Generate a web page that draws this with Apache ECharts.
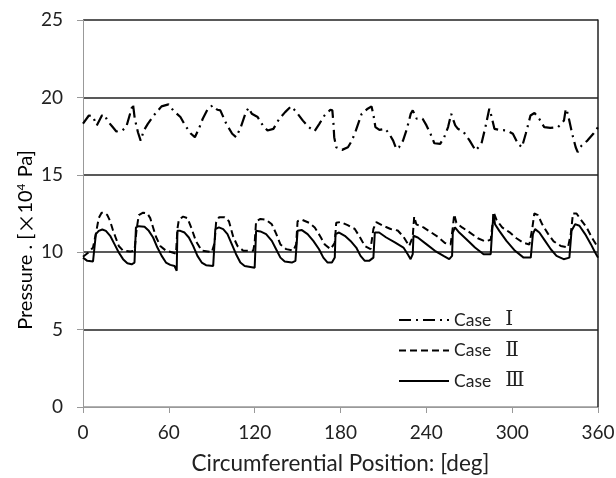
<!DOCTYPE html>
<html><head><meta charset="utf-8">
<script src="https://cdn.jsdelivr.net/npm/echarts@6/dist/echarts.min.js"></script>
<style>html,body{margin:0;padding:0;background:#fff}#c{width:616px;height:478px}</style>
</head><body><div id="c"></div>
<script>
var xTicks = [0, 60, 120, 180, 240, 300, 360];
var yTicks = [0, 5, 10, 15, 20, 25];
var seriesNames = ['Case Ⅰ', 'Case Ⅱ', 'Case Ⅲ'];

var case1Deg = [0,4.1,6.9,9.6,13.2,15.1,17,20.6,23.3,27.4,30.2,32.9,34.9,36.2,38.4,40.3,42.5,45.3,49.4,54.9,59.8,63.1,68.1,71.4,75.5,78.2,81,83.7,87.3,90.6,93.9,96,100.2,104.3,107,110.3,113.9,115.8,118,122.1,125.7,129,133.1,137.2,141.3,145.4,148.7,153.7,157.8,161.9,165.2,168.8,172.9,174.3,175.1,175.6,177,181.1,185.2,188,190.7,194.8,199,201.7,203.1,204.4,207.2,211.3,214,216.8,219,220.9,223.7,226.4,229.1,230.5,233.3,237.4,240.1,242.9,245.6,249.7,252.5,255.2,257.4,258.5,260.2,262.1,266.2,270.3,274.4,278.5,281.3,284,285.4,287.6,290.9,296.4,300.5,304.1,306.8,309.5,312.8,315.6,318.9,322.4,326.6,332,336.2,337.5,338.9,341.7,344.4,345.8,348.5,352.6,356.7,360];
var case1Val = [18.3,18.83,18.77,18.19,18.83,18.88,18.5,18.1,17.8,17.86,18.08,18.94,19.59,18.62,17.75,17.21,17.86,18.29,18.83,19.42,19.55,19.16,18.73,18.19,17.65,17.43,17.97,18.62,19.27,19.48,19.2,19.16,18.29,17.65,17.43,18.08,19.05,19.33,18.94,18.73,18.19,17.86,17.97,18.62,19.05,19.42,19.11,18.5,18.08,17.82,18.29,18.83,19.2,19.16,18.29,17.43,16.78,16.61,16.78,17.21,17.86,18.94,19.27,19.42,18.83,18.08,17.9,17.97,17.65,17.21,16.67,16.78,17.21,17.97,18.94,19.16,18.62,18.62,18.19,17.65,17.04,17.0,17.43,18.08,18.94,18.83,18.19,17.97,17.75,17.21,16.57,17.0,18.08,19.27,18.83,17.97,17.9,17.86,17.65,17.0,16.78,17.65,18.83,18.99,18.62,18.08,18.03,18.08,18.5,19.27,18.94,17.75,16.78,16.46,16.89,17.21,17.65,18.08];

var case2Deg = [0,4,7,9,11,13,15,17,19,21,23,25,28,33,36,37.5,39,42,45,47,49,51,54,58,62,65,66,67,70,73,76,79,83,90,92,93,95,99,102,105,108,112,119,120,121,124,128,132,135,138,142,147,149,150,153,158,162,166,169,173,176,177,180,185,190,194,197,201,203,205,210,215,220,224,228,230.5,231.5,233,238,243,248,253,257,258.5,259.5,261,265,270,276,281,285,286.5,287,289,293,298,303,308,312,314,315.5,318,321,325,329,334,339,341,342.5,345,348,352,356,360];
var case2Val = [9.7,10.0,10.3,11.2,12.2,12.55,12.55,12.4,12.0,11.4,10.9,10.4,10.1,10.05,10.1,11.5,12.4,12.55,12.5,12.2,11.6,11.0,10.4,10.1,10.0,9.9,11.5,12.1,12.3,12.2,11.5,10.7,10.1,10.0,10.6,11.9,12.25,12.25,12.0,11.0,10.4,10.1,10.1,10.6,12.0,12.15,12.1,11.8,11.2,10.5,10.2,10.1,10.5,12.0,12.1,11.9,11.6,11.0,10.5,10.2,10.6,11.9,11.95,11.75,11.5,10.9,10.4,10.2,11.5,11.95,11.7,11.5,11.4,11.0,10.4,11.0,12.3,11.8,11.6,11.3,11.0,10.6,10.5,11.6,12.45,11.9,11.6,11.3,10.9,10.7,10.8,12.0,12.6,12.1,11.6,11.3,10.9,10.6,10.5,11.5,12.5,12.4,11.8,11.2,10.7,10.4,10.3,11.2,12.5,12.5,12.1,11.6,10.9,10.3];

var case3Deg = [0,3,7,8,9,11,13.5,16,19,22,25,28,31,34,36,37,39,43,46,49,52,55,58,61,64,65.5,66,68,71,74,77,80,83,86,91,92.5,95,98,101,104,107,110,113,117,120,121,124,128,132,135,138,141,146,148.5,150,153,157,161,165,168,171,174,176,176.5,179,183,187,191,194,197,200,203,204,207,212,218,224,227,229,230.5,231,234,240,246,252,256,258,258.5,260,263,268,274,280,285,286,287,288,291,296,302,308,313,314.5,316,319,323,327,331,336,340,341.5,344,347,351,355,358,360];
var case3Val = [9.65,9.44,9.4,10.3,11.17,11.38,11.47,11.38,11.06,10.52,9.98,9.55,9.29,9.22,9.33,11.6,11.68,11.64,11.38,10.95,10.3,9.76,9.33,9.18,9.11,8.8,11.38,11.38,11.27,10.95,10.41,9.76,9.33,9.16,9.11,11.49,11.6,11.49,11.17,10.52,9.87,9.33,9.11,9.05,9.0,11.38,11.34,11.17,10.73,10.19,9.65,9.4,9.33,9.44,11.38,11.43,11.17,10.73,10.19,9.65,9.33,9.33,9.65,11.17,11.27,11.06,10.73,10.3,9.76,9.44,9.44,9.65,11.27,11.27,10.95,10.63,10.3,9.87,9.55,9.87,11.06,10.95,10.52,10.09,9.76,9.55,9.76,11.27,11.6,11.27,10.84,10.3,9.87,9.87,11.38,12.46,11.81,11.38,10.73,10.09,9.65,9.65,11.17,11.49,11.27,10.73,10.19,9.76,9.55,9.65,11.38,11.81,11.71,11.17,10.52,9.98,9.65];

function zip(a, b) { return a.map(function (v, i) { return [v, b[i]]; }); }

var sans = 'Lato, "Open Sans", "Liberation Sans", sans-serif';
var chart = echarts.init(document.getElementById('c'), null, {renderer: 'canvas'});
chart.setOption({
  animation: false,
  backgroundColor: '#fff',
  grid: {left: 83, right: 18, top: 20, bottom: 71, containLabel: false, outerBoundsMode: 'none'},
  xAxis: {
    type: 'value', min: xTicks[0], max: xTicks[xTicks.length - 1], interval: 60,
    name: 'Circumferential Position: [deg]', nameLocation: 'middle', nameGap: 45,
    nameTextStyle: {fontFamily: sans, fontSize: 22.5, color: '#222'},
    axisLine: {show: true, onZero: false, lineStyle: {color: '#999', width: 1}},
    axisTick: {show: true, inside: false, length: 6, lineStyle: {color: '#999'}},
    axisLabel: {fontFamily: sans, fontSize: 19, color: '#222', margin: 16},
    splitLine: {show: false}
  },
  yAxis: [{
    type: 'value', min: yTicks[0], max: yTicks[yTicks.length - 1], interval: 5,
    axisLine: {show: true, lineStyle: {color: '#999', width: 1}},
    axisTick: {show: true, inside: false, length: 6, lineStyle: {color: '#999'}},
    axisLabel: {fontFamily: sans, fontSize: 19, color: '#222', margin: 20},
    splitLine: {show: true, lineStyle: {color: ['#999', '#222', '#222', '#222', '#222', '#222'], width: 1.5}}
  }, {
    type: 'value', min: yTicks[0], max: yTicks[yTicks.length - 1], interval: 5, position: 'right',
    axisLine: {show: true, lineStyle: {color: '#222', width: 1.5}},
    axisTick: {show: false}, axisLabel: {show: false}, splitLine: {show: false}
  }],
  legend: {
    orient: 'vertical', left: 393, top: 305, itemWidth: 50, itemHeight: 14, itemGap: 10.5,
    data: seriesNames,
    itemStyle: {opacity: 0},
    formatter: function (n) { var p = n.split(' '); return '{a|' + p[0] + '}{b|' + p[1] + '}'; },
    textStyle: {
      color: '#222',
      rich: {
        a: {fontFamily: sans, fontSize: 17.5, color: '#222', padding: [0, 14, 0, 0]},
        b: {fontFamily: '"Liberation Serif", "DejaVu Serif", "Noto Sans CJK JP", serif', fontSize: 20, color: '#222'}
      }
    }
  },
  graphic: [{
    type: 'text', x: 26, y: 240, rotation: Math.PI / 2,
    style: {
      text: '{a|Pressure . [}{c|×}{a|10}{s|4}{a| Pa]}',
      align: 'center', verticalAlign: 'middle',
      rich: {
        a: {fontFamily: sans, fontSize: 20, color: '#222'},
        c: {fontFamily: '"Noto Sans CJK JP", sans-serif', fontSize: 20, color: '#222'},
        s: {fontFamily: sans, fontSize: 12, color: '#222', padding: [0, 1, 10, 0]}
      }
    }
  }],
  series: [{
    name: seriesNames[0], type: 'line', data: zip(case1Deg, case1Val), symbol: 'none',
    lineStyle: {color: '#000', width: 2.2, type: [12, 5, 2, 5]}, itemStyle: {color: '#000'}
  }, {
    name: seriesNames[1], type: 'line', data: zip(case2Deg, case2Val), symbol: 'none',
    lineStyle: {color: '#000', width: 2, type: [7, 4]}, itemStyle: {color: '#000'}
  }, {
    name: seriesNames[2], type: 'line', data: zip(case3Deg, case3Val), symbol: 'none',
    lineStyle: {color: '#000', width: 2, type: 'solid'}, itemStyle: {color: '#000'}
  }]
});
</script></body></html>
